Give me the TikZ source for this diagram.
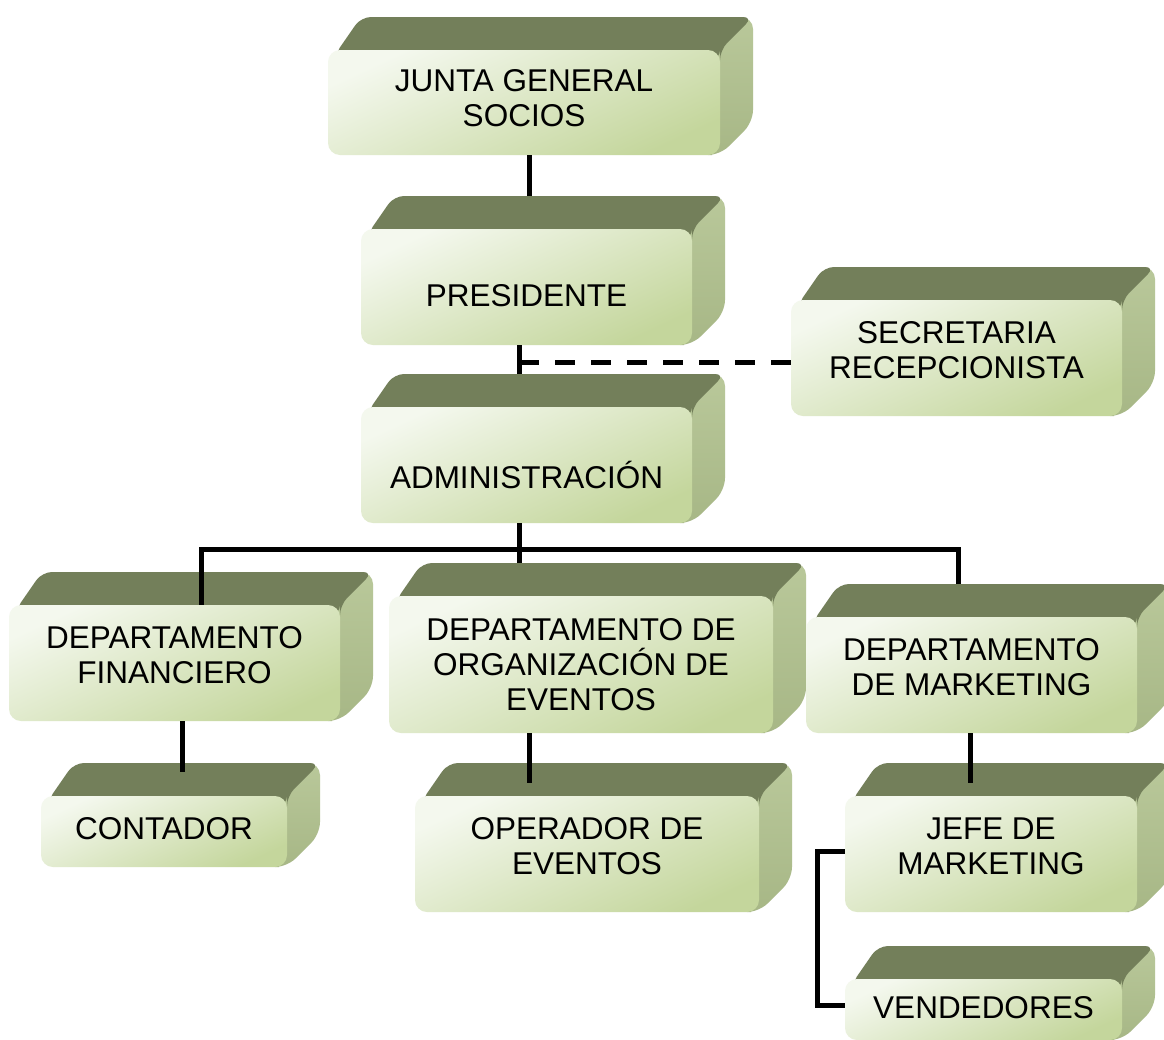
\documentclass[tikz,border=0pt]{standalone}
\usepackage{fontspec}
\setmainfont{Liberation Sans}
\usetikzlibrary{calc}
\definecolor{frontL}{HTML}{F4F8EE}
\definecolor{frontR}{HTML}{C4D69C}
\definecolor{topC}{HTML}{737F5A}
\definecolor{sideC}{HTML}{A7B786}
\definecolor{sideL}{HTML}{B9C89A}
\tikzset{
  frontface/.style={rectangle, rounded corners=12pt, draw=none, inner sep=0pt,
    top color=frontL, bottom color=frontR, shading angle=25},
  topface/.style={fill=topC, rounded corners=10pt},
  sideface/.style={top color=sideL, bottom color=sideC, rounded corners=12pt},
  lbl/.style={align=center, font=\fontsize{31.5}{35}\selectfont, inner sep=0pt},
  conn/.style={line width=5pt, black},
  dashconn/.style={line width=5pt, black, dash pattern=on 20pt off 16pt}
}
% name, x1, y1, x2, y2, text, text shift
\newcommand\obox[7]{%
  \shade[sideface] (#4-20,#3) -- (#4+13,#3-33) -- (#4+33,#3-33) -- (#4+33,#5-33) -- (#4,#5) -- (#4-20,#5) -- cycle;
  \fill[topface] (#2+6,#3+6) -- (#2+33,#3-33) -- (#4+33,#3-33) -- (#4,#3) -- (#4,#3+10) -- cycle;
  \node[frontface, minimum width={(#4-#2)*1pt}, minimum height={(#5-#3)*1pt}] (#1) at ({(#2+#4)/2},{(#3+#5)/2}) {};
  \node[lbl] (#1-t) at ({(#2+#4)/2},{(#3+#5)/2+#7}) {#6};
}
\begin{document}
\begin{tikzpicture}[x=1pt,y=-1pt]
\useasboundingbox (0,0) rectangle (1164,1039);
\clip (0,0) rectangle (1164,1039);
\fill[white] (0,0) rectangle (1164,1039);

\obox{J}{328}{50}{720}{155}{JUNTA GENERAL\\SOCIOS}{-4.5}
\obox{P}{361}{229}{692}{345}{PRESIDENTE}{9}
\obox{S}{791}{300}{1122}{416}{SECRETARIA\\RECEPCIONISTA}{-8}
\obox{A}{361}{407}{692}{523}{ADMINISTRACIÓN}{10}
\obox{F}{9}{605}{340}{721}{DEPARTAMENTO\\FINANCIERO}{-8}
\obox{O}{389}{596}{773}{733}{DEPARTAMENTO DE\\ORGANIZACIÓN DE\\EVENTOS}{0}
\obox{M}{806}{617}{1137}{733}{DEPARTAMENTO\\DE MARKETING}{-8}
\obox{C}{41}{796}{287}{867}{CONTADOR}{-3}
\obox{Op}{415}{796}{759}{912}{OPERADOR DE\\EVENTOS}{-8}
\obox{Je}{845}{796}{1137}{912}{JEFE DE\\MARKETING}{-8}
\obox{V}{845}{979}{1122}{1040}{VENDEDORES}{-1.5}

% connectors
\draw[conn] ($(J.south)+(5,0)$) -- ($(J.south |- P.north)+(5,-33)$);
\draw[conn] ($(P.south)+(-7.5,0)$) -- ($(P.south |- A.north)+(-7.5,-33)$);
\coordinate (Pa) at ($(P.south)+(-7.5,17)$);
\draw[dashconn] (Pa) -- (Pa -| S.west);
\draw[conn] ($(A.south)+(-7.5,0)$) -- ($(A.south |- O.north)+(-7.5,-33)$);
\draw[conn] ($(F.north)+(26.5,0)$) |- ($(M.north)+(-13.5,-67)$) -- ($(M.north)+(-13.5,-33)$);
\draw[conn] ($(F.south)+(7.5,0)$) -- ($(F.south |- C.north)+(7.5,-24)$);
\draw[conn] ($(O.south)+(-52,0)$) -- ($(O.south |- Op.north)+(-52,-13)$);
\draw[conn] ($(M.south)+(-1.5,0)$) -- ($(M.south |- Je.north)+(-1.5,-13)$);
\draw[conn] ($(Je.west)+(0,-3)$) -- ++(-27,0) |- ($(V.west)+(0,-4.5)$);
\end{tikzpicture}
\end{document}
